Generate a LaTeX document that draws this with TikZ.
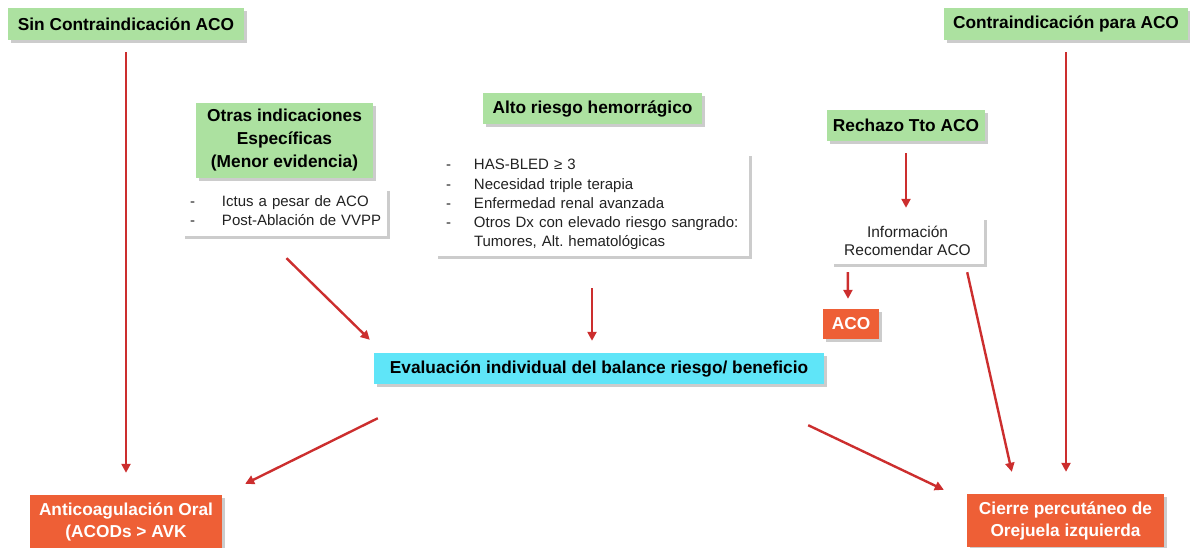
\documentclass[tikz,border=0pt]{standalone}
\usepackage{fontspec}
\setmainfont{Liberation Sans}
\usetikzlibrary{arrows.meta,shadows,calc}
\definecolor{boxgreen}{HTML}{ACE1A0}
\definecolor{boxcyan}{HTML}{5FE5F8}
\definecolor{boxorange}{HTML}{EE5F36}
\definecolor{arrowred}{HTML}{CC2E2E}
\definecolor{bodytext}{HTML}{222222}
\frenchspacing
\begin{document}
\begin{tikzpicture}[x=1pt,y=-1pt,
  shade box/.style={drop shadow={shadow xshift=2.5pt,shadow yshift=-3pt,fill=black!40,opacity=0.5}},
  base/.style={shade box,inner sep=0pt,align=center,anchor=center},
  greenbox/.style={base,fill=boxgreen,font=\bfseries\fontsize{17.3}{23}\selectfont,text=black},
  cyanbox/.style={base,fill=boxcyan,font=\bfseries\fontsize{17.3}{23}\selectfont,text=black},
  orangebox/.style={base,fill=boxorange,font=\bfseries\fontsize{17.3}{22}\selectfont,text=white},
  listbox/.style={base,fill=white,align=left,font=\fontsize{15}{19.2}\selectfont,text=bodytext},
  arr/.style={draw=arrowred,line width=2.4pt,-{Triangle[length=9pt,width=9pt]}}
]
\useasboundingbox (0,0) rectangle (1190,547);

% top corner conditions
\node[greenbox,minimum width=236,minimum height=32] (sin) at (126,24) {Sin Contraindicación ACO};
\node[greenbox,minimum width=244,minimum height=32] (contra) at (1066,24) {Contraindicación para ACO};

% other specific indications
\node[greenbox,minimum width=177,minimum height=75] (otras) at (284.5,140.5)
  {Otras indicaciones\\Específicas\\(Menor evidencia)};
\node[listbox,minimum width=205,minimum height=48,text width=189pt] (l1) at (284.5,212)
  {\begin{tabular}{@{}p{32pt}@{}l@{}}
   - & Ictus a pesar de ACO\\
   - & Post-Ablación de VVPP
   \end{tabular}};

% high bleeding risk
\node[greenbox,minimum width=219,minimum height=31] (alto) at (592.5,108.5) {Alto riesgo hemorrágico};
\node[listbox,minimum width=314,minimum height=103,text width=292pt] (l2) at (592,204.5)
  {\begin{tabular}{@{}p{28pt}@{}l@{}}
   - & HAS-BLED ≥ 3\\
   - & Necesidad triple terapia\\
   - & Enfermedad renal avanzada\\
   - & Otros Dx con elevado riesgo sangrado:\\
     & Tumores, Alt. hematológicas
   \end{tabular}};

% refusal of anticoagulation
\node[greenbox,minimum width=158,minimum height=31] (rech) at (906,125.5) {Rechazo Tto ACO};
\node[listbox,align=center,minimum width=153,minimum height=47,font=\fontsize{15.5}{18}\selectfont] (info) at (907.5,240.5)
  {Información\\Recomendar ACO};
\node[orangebox,minimum width=56,minimum height=30] (acobox) at (851,324) {ACO};

% central evaluation
\node[cyanbox,minimum width=450,minimum height=31] (eval) at (599,368.5)
  {Evaluación individual del balance riesgo/ beneficio};

% outcomes
\node[orangebox,minimum width=192,minimum height=53] (anti) at (126,521.5)
  {Anticoagulación Oral\\(ACODs > AVK};
\node[orangebox,minimum width=197,minimum height=53] (cierre) at (1065.5,520.5)
  {Cierre percutáneo de\\Orejuela izquierda};

% connectors
\draw[arr,shorten <=12pt,shorten >=22pt] (sin.south) -- (anti.north);
\draw[arr,shorten <=12pt,shorten >=22pt] (contra.south) -- (contra.south |- cierre.north);
\draw[arr] ($(l1.south)+(2,22)$) -- ($(eval.north west)+(-4,-13)$);
\draw[arr,shorten <=32pt,shorten >=12pt] (l2.south) -- (l2.south |- eval.north);
\draw[arr,shorten <=12pt,shorten >=9pt] (rech.south) -- (rech.south |- info.north);
\draw[arr] ($(info.south west)+(17,8)$) -- ($(acobox.north)+(-3,-10)$);
\draw[arr] ($(info.south east)+(-17,8)$) -- ($(cierre.north west)+(45,-22)$);
\draw[arr] ($(eval.south west)+(4,34)$) -- ($(anti.north east)+(23,-11)$);
\draw[arr] ($(eval.south east)+(-16,41)$) -- ($(cierre.north west)+(-23,-4)$);
\end{tikzpicture}
\end{document}
